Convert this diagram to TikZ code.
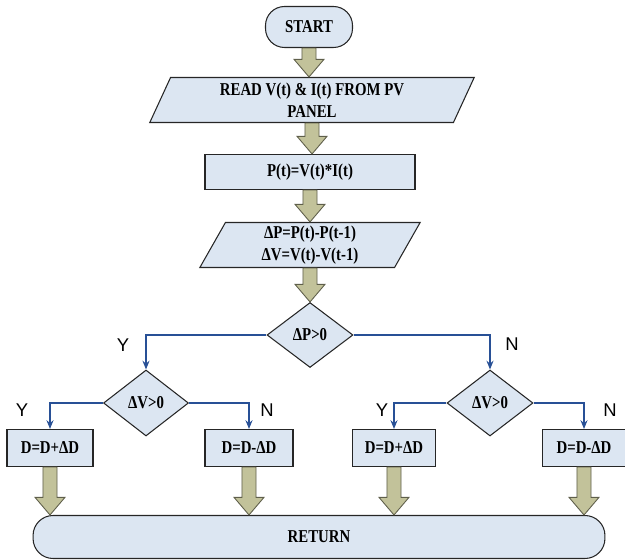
\documentclass[tikz,border=0pt]{standalone}
\usepackage{fontspec}
\setmainfont{Liberation Serif}[FakeStretch=0.82]
\newfontfamily\ynfont{Liberation Sans}
\usetikzlibrary{shapes.geometric,calc,arrows.meta}

\definecolor{boxblue}{RGB}{220,230,242}
\definecolor{arrowfill}{RGB}{194,194,154}
\definecolor{arrowedge}{RGB}{95,95,75}
\definecolor{linkblue}{RGB}{40,80,150}

% fat block arrow from the bottom of #1 down to the top of #2
\newcommand{\fatarrow}[2]{%
	\draw[fat] let \p1=(#1.south), \p2=(#2.north) in
	(\x1-4pt,\y1) -- (\x1-4pt,\y2+10pt) -- (\x1-8.5pt,\y2+10pt) -- (\x1,\y2)
	-- (\x1+8.5pt,\y2+10pt) -- (\x1+4pt,\y2+10pt) -- (\x1+4pt,\y1) -- cycle;}

\begin{document}
\begin{tikzpicture}[x=0.02cm, y=-0.02cm,
	box/.style={draw=black!85, fill=boxblue, line width=0.6pt, inner sep=1pt,
		font=\fontsize{10.3}{12.4}\selectfont\bfseries, align=center},
	term/.style={box, rounded corners=0.38cm},
	io/.style={box, trapezium, trapezium left angle=70, trapezium right angle=110,
		trapezium stretches=true},
	decide/.style={box, diamond, inner sep=0pt},
	fat/.style={draw=arrowedge, fill=arrowfill, line width=0.5pt},
	link/.style={draw=linkblue, line width=0.6pt, -{Stealth[length=5pt,width=4pt]}},
	yn/.style={font=\ynfont\fontsize{10.5}{12}\selectfont}]
	
	\useasboundingbox (0,0) rectangle (625,560);
	
	%main column
	\node[term, minimum width=1.74cm, minimum height=0.82cm] (start) at (309,27){START};
	\node[io, minimum width=6.5cm, minimum height=0.9cm] (read) at (312,100){READ V(t) \& I(t) FROM PV\\PANEL};
	\node[box, minimum width=4.2cm, minimum height=0.7cm] (pow) at (310,172){P(t)=V(t)*I(t)};
	\node[io, minimum width=4.42cm, minimum height=0.9cm] (diff) at (310,245){ΔP=P(t)-P(t-1)\\ΔV=V(t)-V(t-1)};
	
	%decisions
	\node[decide, minimum width=1.72cm, minimum height=1.3cm] (dp) at (310,335){ΔP>0};
	\node[decide, minimum width=1.7cm, minimum height=1.32cm] (dvl) at (146,403){ΔV>0};
	\node[decide, minimum width=1.72cm, minimum height=1.32cm] (dvr) at (490,403){ΔV>0};
	
	%duty cycle updates
	\node[box, minimum width=1.72cm, minimum height=0.74cm] (d1) at (50,448){D=D+ΔD};
	\node[box, minimum width=1.76cm, minimum height=0.74cm] (d2) at (249,448){D=D-ΔD};
	\node[box, minimum width=1.66cm, minimum height=0.74cm] (d3) at (394,448){D=D+ΔD};
	\node[box, minimum width=1.66cm, minimum height=0.74cm] (d4) at (584,448){D=D-ΔD};
	
	\node[term, minimum width=11.44cm, minimum height=0.86cm, rounded corners=0.4cm] (ret) at (319,537){RETURN};
	
	%labels
	\node[yn] (y0) at (123,345){Y};
	\node[yn] (n0) at (512,344){N};
	\node[yn] (y1) at (22,410){Y};
	\node[yn] (n1) at (267,410){N};
	\node[yn] (y2) at (382,410){Y};
	\node[yn] (n2) at (610,410){N};
	
	\fatarrow{start}{read}
	\fatarrow{read}{pow}
	\fatarrow{pow}{diff}
	\fatarrow{diff}{dp}
	
	\draw[link] (dp.west) -| (dvl.north);
	\draw[link] (dp.east) -| (dvr.north);
	
	\draw[link] (dvl.west) -| (d1.north);
	\draw[link] (dvl.east) -| (d2.north);
	\draw[link] (dvr.west) -| (d3.north);
	\draw[link] (dvr.east) -| (d4.north);
	
	\fatarrow{d1}{ret}
	\fatarrow{d2}{ret}
	\fatarrow{d3}{ret}
	\fatarrow{d4}{ret}
	
\end{tikzpicture}
\end{document}
